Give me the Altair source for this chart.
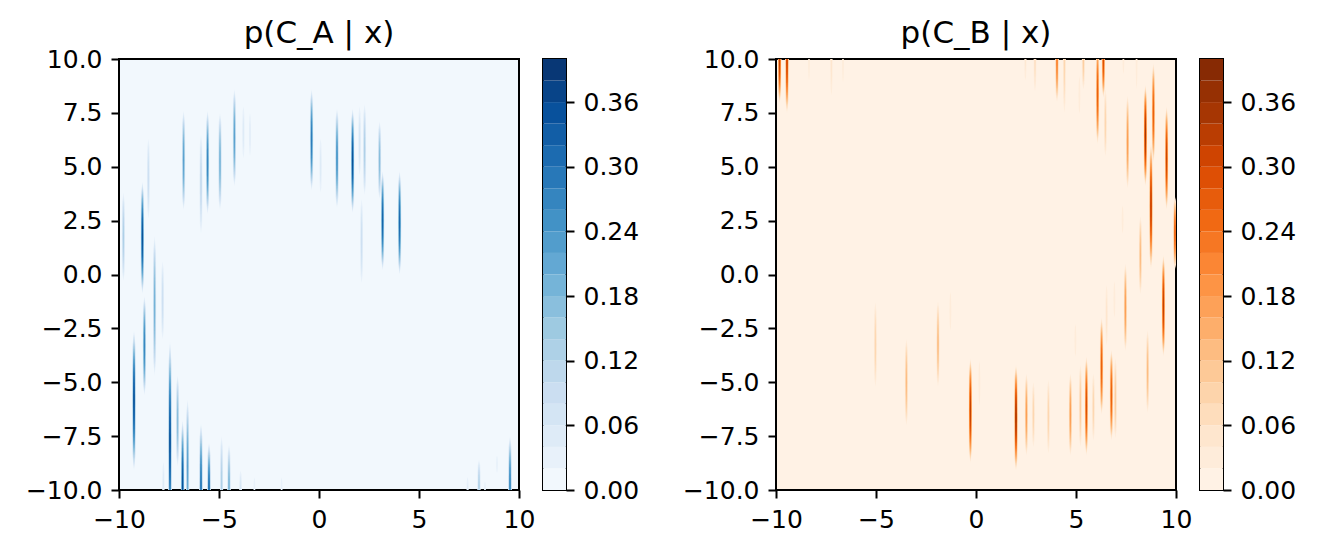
import altair as alt
import pandas as pd

# streaks: x position, lower / upper visible end, peak probability
a_x = [-9.78, -8.83, -8.53, -8.22, -7.82, -6.77, -5.90, -5.57, -4.95, -4.23,
       -3.78, -3.45, -0.37, 0.08, 0.90, 1.68, 2.03, 2.28, 3.03, 3.18,
       4.03, 2.13, -9.25, -8.73, -7.45, -7.07, -6.82, -6.57, -7.78, -5.90,
       -5.50, -4.87, -4.50, -3.92, -3.23, -1.87, 8.00, 7.43, 8.90, 9.55, 8.30]
a_lo = [-0.3, -0.9, 2.6, -4.7, -3.0, 3.0, 1.9, 2.8, 3.0, 4.1,
        5.4, 5.5, 3.9, 3.8, 3.1, 2.85, 4.6, 3.7, 3.5, 0.2,
        0.0, -0.4, -9.1, -5.6, -12.5, -8.9, -13.0, -12.0, -11.0, -13.0,
        -12.5, -12.0, -12.0, -11.0, -10.6, -10.6, -11.0, -10.6, -9.2, -12.0, -10.4]
a_hi = [3.8, 4.3, 6.3, 1.8, 0.6, 7.6, 6.5, 7.6, 7.5, 8.6,
        7.8, 7.5, 8.6, 6.3, 7.7, 7.7, 7.8, 7.9, 7.1, 4.8,
        4.8, 3.5, -2.6, -1.0, -3.1, -4.7, -6.75, -5.8, -8.7, -6.9,
        -7.8, -7.5, -7.9, -9.1, -9.4, -9.4, -8.6, -9.4, -8.4, -7.5, -9.6]
a_peak = [0.15, 0.39, 0.10, 0.22, 0.10, 0.25, 0.12, 0.30, 0.22, 0.25,
          0.06, 0.05, 0.32, 0.06, 0.28, 0.39, 0.08, 0.15, 0.20, 0.36,
          0.35, 0.10, 0.39, 0.30, 0.39, 0.20, 0.39, 0.25, 0.06, 0.33,
          0.35, 0.15, 0.22, 0.08, 0.04, 0.04, 0.15, 0.05, 0.04, 0.30, 0.04]

b_x = [-9.82, -9.45, -8.35, -7.23, -6.65, 2.47, 2.95, 4.05, 4.42, 5.17,
       5.37, 6.08, 6.37, 6.47, 7.37, 7.58, 8.03, 8.47, 8.87, 8.75,
       8.22, 9.53, 7.33, 9.37, 9.95, -5.03, -3.48, -1.90, -1.28, -0.28,
       0.17, 2.00, 2.52, 2.87, 3.62, 4.72, 4.97, 5.22, 5.52, 5.87,
       6.28, 6.53, 6.77, 6.97, 6.92, 7.47, 8.58]
b_lo = [7.95, 7.5, 9.0, 8.3, 8.9, 9.0, 8.5, 8.0, 7.5, 7.45,
        8.6, 6.05, 8.2, 5.5, 9.3, 4.0, 8.6, 4.1, 5.2, 0.25,
        -0.9, 3.0, 1.9, -3.8, 0.25, -5.2, -7.0, -5.2, -2.6, -8.75,
        -6.1, -9.1, -8.4, -8.0, -8.3, -8.4, -3.8, -8.0, -8.4, -7.7,
        -6.5, -3.3, -7.7, -7.6, -2.0, -3.55, -6.4]
b_hi = [12.0, 12.5, 11.0, 11.7, 11.1, 11.0, 11.5, 12.0, 12.5, 9.2,
        11.4, 10.8, 11.8, 8.6, 10.7, 8.3, 11.4, 8.8, 9.8, 6.1,
        2.7, 7.8, 3.2, 0.9, 3.6, -1.3, -3.0, -1.25, -0.8, -3.9,
        -4.0, -4.2, -4.6, -5.0, -4.9, -4.6, -2.3, -4.2, -3.8, -4.6,
        -2.0, -0.5, -3.5, -3.9, -0.3, 0.5, -2.6]
b_peak = [0.36, 0.35, 0.04, 0.06, 0.04, 0.05, 0.08, 0.25, 0.10, 0.04,
          0.12, 0.30, 0.33, 0.10, 0.04, 0.20, 0.04, 0.39, 0.30, 0.36,
          0.15, 0.35, 0.04, 0.36, 0.30, 0.10, 0.15, 0.15, 0.04, 0.36,
          0.04, 0.39, 0.20, 0.10, 0.10, 0.20, 0.04, 0.12, 0.33, 0.10,
          0.30, 0.06, 0.30, 0.12, 0.04, 0.20, 0.15]

# contour levels and colorbar ticks
levels = [0.00, 0.02, 0.04, 0.06, 0.08, 0.10, 0.12, 0.14, 0.16, 0.18, 0.20,
          0.22, 0.24, 0.26, 0.28, 0.30, 0.32, 0.34, 0.36, 0.38, 0.40]
cbar_ticks = [0.00, 0.06, 0.12, 0.18, 0.24, 0.30, 0.36]
x_ticks = [-10, -5, 0, 5, 10]
y_ticks = [-10.0, -7.5, -5.0, -2.5, 0.0, 2.5, 5.0, 7.5, 10.0]

BLUES = ["#f7fbff", "#deebf7", "#c6dbef", "#9ecae1", "#6baed6",
         "#4292c6", "#2171b5", "#08519c", "#08306b"]
ORANGES = ["#fff5eb", "#fee6ce", "#fdd0a2", "#fdae6b", "#fd8d3c",
           "#f16913", "#d94801", "#a63603", "#7f2704"]

FONT = "DejaVu Sans"
PW, PH = 400, 431
HALF_W = 0.09  # half width of a streak footprint (x units)
STEPS = [-1.0, -0.8, -0.5, 0.0, 0.5, 0.8, 1.0]


def ramp(anchors, n):
    rgb = [tuple(int(a[i:i + 2], 16) for i in (1, 3, 5)) for a in anchors]
    out = []
    for k in range(n):
        t = (k + 0.5) / n * (len(rgb) - 1)
        i = min(int(t), len(rgb) - 2)
        f = t - i
        c = [round(rgb[i][j] + (rgb[i + 1][j] - rgb[i][j]) * f) for j in range(3)]
        out.append("#%02x%02x%02x" % tuple(c))
    return out


#band outlines of a contourf spike: narrow in x, rounded profile along y
def streaks(xs, lo, hi, peak):
    step = levels[1]
    rows = []
    for i in range(len(xs)):
        xc = xs[i]
        yc = (lo[i] + hi[i]) / 2
        v = peak[i]
        big_h = (hi[i] - lo[i]) / 2 / (1 - step / v) ** 0.5
        for k in range(1, len(levels) - 1):
            lev = levels[k]
            if v <= lev:
                break
            dl = big_h * (1 - lev / v) ** 0.5
            for s in STEPS:
                d = s * dl
                vd = v * (1 - (d / big_h) ** 2)
                hw = max(HALF_W * (1 - lev / vd), 0) if vd > 0 else 0
                rows.append({"sid": i, "band": k, "y": yc + d, "xl": xc - hw, "xr": xc + hw})
    return pd.DataFrame(rows)


def panel(df, colors, title):
    x = alt.X("xl:Q", scale=alt.Scale(domain=[-10, 10], nice=False, zero=False),
              axis=alt.Axis(values=x_ticks, format="d", title=None))
    y = alt.Y("y:Q", scale=alt.Scale(domain=[-10, 10], nice=False, zero=False),
              axis=alt.Axis(values=y_ticks, format=".1f", title=None))
    layers = []
    for k in range(1, len(levels) - 1):
        layers.append(
            alt.Chart(df).transform_filter(alt.datum.band == k)
            .mark_area(orient="horizontal", clip=True, color=colors[k])
            .encode(x=x, x2="xr:Q", y=y, detail="sid:N")
        )
    return alt.layer(*layers).properties(
        width=PW, height=PH,
        title=alt.TitleParams(title, anchor="middle", frame="group"),
        view=alt.ViewBackground(fill=colors[0], stroke="black", strokeWidth=2),
    )


def colorbar(colors):
    cb = pd.DataFrame({"lo": levels[:-1], "hi": levels[1:], "fill": colors})
    return alt.Chart(cb).mark_rect().encode(
        x=alt.value(0), x2=alt.value(23),
        y=alt.Y("lo:Q", scale=alt.Scale(domain=[0, 0.4], nice=False, zero=False),
                axis=alt.Axis(orient="right", values=cbar_ticks, format=".2f", title=None)),
        y2="hi:Q",
        color=alt.Color("fill:N", scale=None),
    ).properties(width=23, height=PH,
                 view=alt.ViewBackground(stroke="black", strokeWidth=2))


blues = ramp(BLUES, 20)
oranges = ramp(ORANGES, 20)

# spacing is measured from the overhanging x label "10", not from the frame
left = alt.hconcat(panel(streaks(a_x, a_lo, a_hi, a_peak), blues, "p(C_A | x)"),
                   colorbar(blues), spacing=6)
right = alt.hconcat(panel(streaks(b_x, b_lo, b_hi, b_peak), oranges, "p(C_B | x)"),
                    colorbar(oranges), spacing=6)

chart = alt.hconcat(left, right, spacing=41).properties(
    padding={"left": 16, "top": 9, "right": 0, "bottom": 0},
    background="white",
).configure_axis(
    labelFont=FONT, labelFontSize=25, labelColor="black",
    tickColor="black", tickWidth=2, tickSize=8, labelPadding=9,
    domain=False, grid=False, labelFlush=False, labelOverlap=False,
).configure_title(
    font=FONT, fontSize=31, fontWeight="normal", color="black", offset=-3,
)

chart.save("out.html", embed_options={"renderer": "svg", "actions": False})
